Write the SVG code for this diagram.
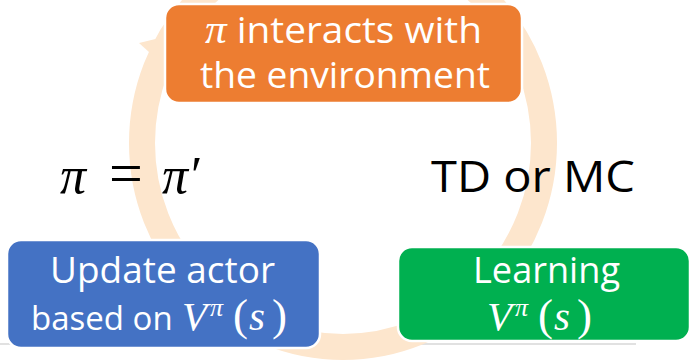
<svg xmlns="http://www.w3.org/2000/svg" width="692" height="361" viewBox="0 0 692 361">
<style>
.box{stroke:#ffffff;stroke-width:2.5}
.t{font-family:"Open Sans","Liberation Sans",sans-serif;fill:#ffffff;font-size:36px}
.k{font-family:"Open Sans","Liberation Sans",sans-serif;fill:#000000;font-size:44px}
.mt{font-family:"Liberation Serif","DejaVu Serif",serif;fill:#ffffff;font-size:41px}
.mk{font-family:"Liberation Serif","DejaVu Serif",serif;fill:#000000;font-size:52px}
.s{font-family:"Open Sans","Liberation Sans",sans-serif;font-size:33px}
.m{font-style:italic}
.p{font-size:45px}
.sup{font-style:italic;font-size:26px}
.ring{fill:none;stroke:#FDE6CD;stroke-width:26}
</style>
<rect width="692" height="361" fill="#ffffff"/>
<line x1="0" y1="344" x2="636" y2="344" stroke="#c4c4c4" stroke-width="1.2"/>
<g id="connectors">
<ellipse class="ring" cx="343" cy="143" rx="201" ry="204"/>
<polygon points="149,52 139,43 176,34 186,64" fill="#FDE6CD"/>
</g>
<g id="interact">
<rect class="box" x="165" y="4" width="357" height="99" rx="14" fill="#ED7D31"/>
<text class="t" x="205" y="43" textLength="277" lengthAdjust="spacingAndGlyphs"><tspan class="m" font-family="Liberation Serif, DejaVu Serif, serif" font-size="40">π</tspan> interacts with</text>
<text class="t" x="200" y="88" textLength="290" lengthAdjust="spacingAndGlyphs">the environment</text>
</g>
<g id="update">
<rect class="box" x="7" y="240" width="313" height="108" rx="14" fill="#4472C4"/>
<text class="t" x="50" y="283" textLength="225" lengthAdjust="spacingAndGlyphs">Update actor</text>
<text class="mt" y="330"><tspan class="s" x="31">based on</tspan><tspan class="m" x="182">V</tspan><tspan class="sup" x="210" y="316">π</tspan><tspan class="p" x="233" y="330">(</tspan><tspan class="m" x="249">s</tspan><tspan class="p" x="272">)</tspan></text>
</g>
<g id="learning">
<rect class="box" x="398" y="247" width="292" height="94" rx="14" fill="#00B050"/>
<text class="t" x="473" y="283" textLength="147" lengthAdjust="spacingAndGlyphs">Learning</text>
<text class="mt" y="330"><tspan class="m" x="487">V</tspan><tspan class="sup" x="515" y="316">π</tspan><tspan class="p" x="538" y="330">(</tspan><tspan class="m" x="554">s</tspan><tspan class="p" x="577">)</tspan></text>
</g>
<g id="labels">
<text class="mk" y="193"><tspan class="m" x="60">π</tspan><tspan x="109" font-size="60">=</tspan><tspan class="m" x="162">π</tspan><tspan x="191">′</tspan></text>
<text class="k" x="431" y="192" textLength="204" lengthAdjust="spacingAndGlyphs">TD or MC</text>
</g>
</svg>
